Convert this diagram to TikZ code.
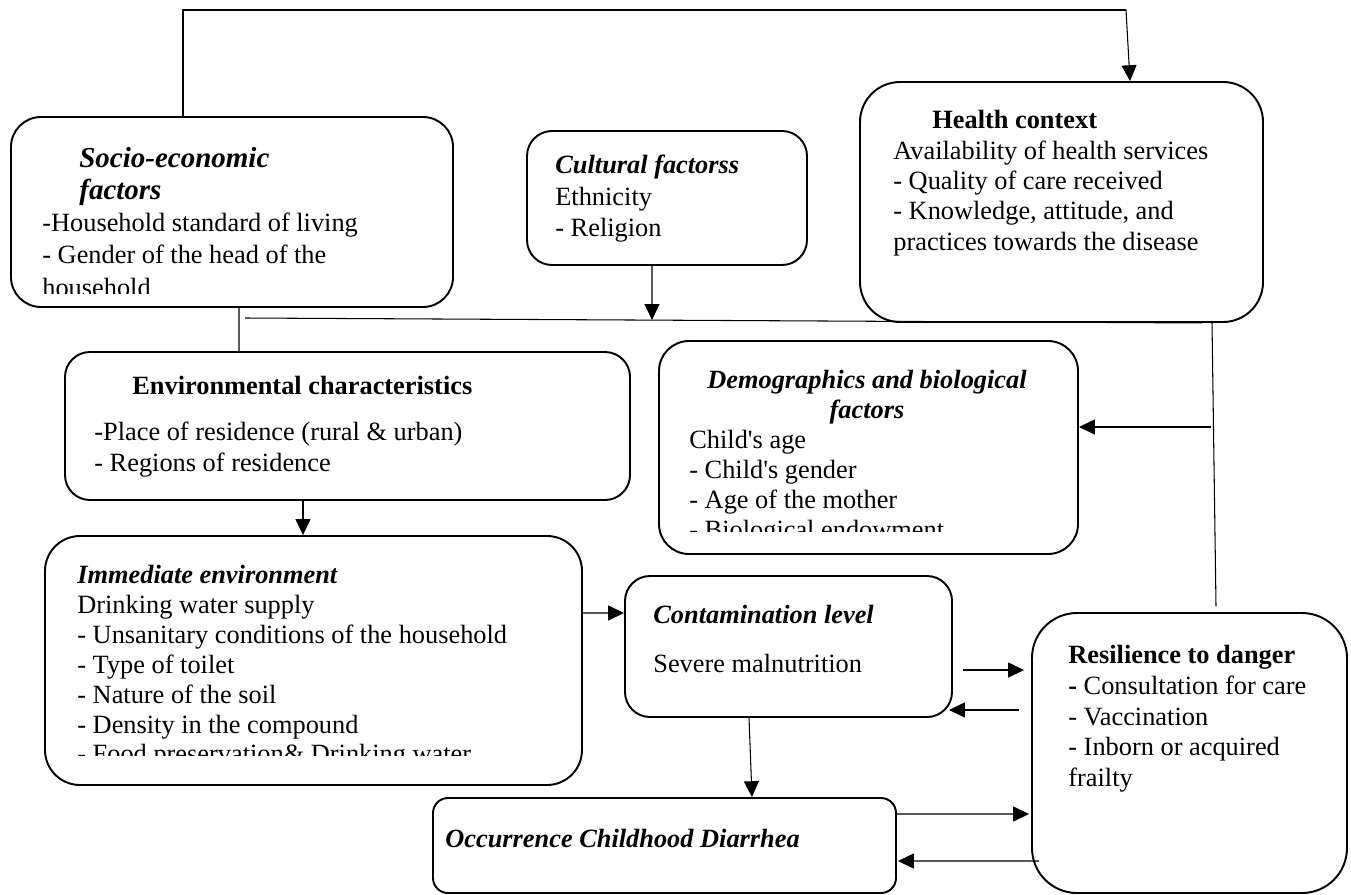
\documentclass[tikz,border=0pt]{standalone}
\usepackage{fontspec}
\setmainfont{Liberation Serif}
\usetikzlibrary{arrows.meta}

\tikzset{
    box/.style={draw, line width=1.1pt, inner sep=0pt},
    txt/.style={anchor=north west, inner sep=0pt, align=left, font=\fontsize{15}{17.5}\selectfont},
    link/.style={line width=0.6pt},
    arr/.style={line width=0.6pt, -{Triangle[length=9pt,width=8.5pt]}}
}
\newcommand{\hd}[1]{\textbf{\textit{#1}}}

\begin{document}
\begin{tikzpicture}
                \useasboundingbox (0,0) rectangle (27.02,-17.9);

                \node (socio) [box, rounded corners=0.6cm, minimum width=8.84cm, minimum height=3.8cm] at (4.64,-4.24) {};
                \node (cult) [box, rounded corners=0.5cm, minimum width=5.6cm, minimum height=2.68cm] at (13.34,-3.96) {};
                \node (health) [box, rounded corners=0.8cm, minimum width=8.06cm, minimum height=4.8cm] at (21.23,-4.04) {};
                \node (env) [box, rounded corners=0.5cm, minimum width=11.3cm, minimum height=2.96cm] at (6.95,-8.52) {};
                \node (demo) [box, rounded corners=0.6cm, minimum width=8.38cm, minimum height=4.26cm] at (17.37,-8.95) {};
                \node (imm) [box, rounded corners=0.7cm, minimum width=10.74cm, minimum height=4.98cm] at (6.27,-13.21) {};
                \node (contam) [box, rounded corners=0.5cm, minimum width=6.54cm, minimum height=2.82cm] at (15.77,-12.93) {};
                \node (occ) [box, rounded corners=0.3cm, minimum width=9.26cm, minimum height=1.9cm] at (13.29,-16.91) {};
                \node (resil) [box, rounded corners=0.9cm, minimum width=6.3cm, minimum height=5.6cm] at (23.79,-15.06) {};

                \begin{scope}
                    \clip (0.3,-2.4) rectangle (9,-5.87);
                    \node (socioTxt) [txt, font=\fontsize{15}{18.3}\selectfont] at (0.84,-2.94) {\hspace*{0.74cm}{\fontsize{16.5}{18.3}\selectfont\hd{Socio-economic}}\\ \hspace*{0.74cm}{\fontsize{16.5}{18.3}\selectfont\hd{factors}}\\ -Household standard of living\\ - Gender of the head of the\\ household};
                \end{scope}
                \node (cultTxt) [txt, font=\fontsize{15}{17.8}\selectfont] at (11.1,-3.1) {\hd{Cultural factorss}\\ Ethnicity\\ - Religion};
                \node (healthTxt) [txt, font=\fontsize{15}{17.3}\selectfont] at (17.86,-2.2) {\hspace*{0.78cm}\textbf{Health context}\\ Availability of health services\\ - Quality of care received\\ - Knowledge, attitude, and\\ practices towards the disease};
                \node (envHead) [txt] at (2.64,-7.52) {\textbf{Environmental characteristics}};
                \node (envTxt) [txt] at (1.88,-8.44) {-Place of residence (rural \& urban)\\ - Regions of residence};
                \node (demoHead) [txt, anchor=north, align=center, font=\fontsize{15}{17}\selectfont] at (17.34,-7.4) {\hd{Demographics and biological}\\ \hd{factors}};
                \begin{scope}
                    \clip (13.3,-8.4) rectangle (21.5,-10.62);
                    \node (demoTxt) [txt, font=\fontsize{15}{17}\selectfont] at (13.78,-8.6) {Child\textquotesingle s age\\ - Child\textquotesingle s gender\\ - Age of the mother\\ - Biological endowment};
                \end{scope}
                \begin{scope}
                    \clip (0.9,-10.8) rectangle (11.6,-15.1);
                    \node (immTxt) [txt, font=\fontsize{15}{17}\selectfont] at (1.54,-11.3) {\hd{Immediate environment}\\ Drinking water supply\\ - Unsanitary conditions of the household\\ - Type of toilet\\ - Nature of the soil\\ - Density in the compound\\ - Food preservation\& Drinking water};
                \end{scope}
                \node (contamHead) [txt] at (13.06,-12.1) {\hd{Contamination level}};
                \node (contamTxt) [txt] at (13.06,-13.08) {Severe malnutrition};
                \node (occTxt) [txt] at (8.9,-16.58) {\hd{Occurrence Childhood Diarrhea}};
                \node (resilTxt) [txt] at (21.36,-12.9) {\textbf{Resilience to danger}\\ \textbf{-} Consultation for care\\ - Vaccination\\ - Inborn or acquired\\ frailty};

                \coordinate (topL) at (3.66,-0.2);
                \coordinate (topR) at (22.52,-0.2);
                \coordinate (hzL) at (4.9,-6.36);
                \coordinate (cultT) at (13.04,-6.4);
                \coordinate (demoIn) at (24.22,-8.54);

                \draw [link] ([xshift=-0.98cm]socio.north) -- (topL) -- (topR);
                \draw [arr] (topR) -- ([xshift=1.37cm]health.north);
                \draw [link] ([xshift=0.14cm]socio.south) -- ([xshift=-2.17cm]env.north);
                \draw [link] (hzL) -- ([xshift=2.81cm]health.south);
                \draw [arr] ([xshift=-0.3cm]cult.south) -- (cultT);
                \draw [link] ([xshift=3.01cm]health.south) -- ([xshift=0.53cm,yshift=0.12cm]resil.north);
                \draw [arr] (demoIn) -- ([yshift=0.41cm]demo.east);
                \draw [arr] ([xshift=-0.89cm]env.south) -- ([xshift=-0.21cm]imm.north);
                \draw [arr] ([yshift=0.95cm]imm.east) -- ([yshift=0.67cm]contam.west);
                \draw [arr] ([xshift=-0.79cm]contam.south) -- ([xshift=1.75cm]occ.north);
                \draw [arr] ([xshift=0.2cm,yshift=-0.47cm]contam.east) -- ([xshift=-0.14cm,yshift=1.66cm]resil.west);
                \draw [arr] ([xshift=-0.24cm,yshift=0.86cm]resil.west) -- ([xshift=-0.08cm,yshift=-1.27cm]contam.east);
                \draw [arr] ([yshift=0.63cm]occ.east) -- ([xshift=-0.04cm,yshift=-1.22cm]resil.west);
                \draw [arr] ([xshift=0.16cm,yshift=-2.16cm]resil.west) -- ([xshift=0.02cm,yshift=-0.31cm]occ.east);
\end{tikzpicture}
\end{document}
